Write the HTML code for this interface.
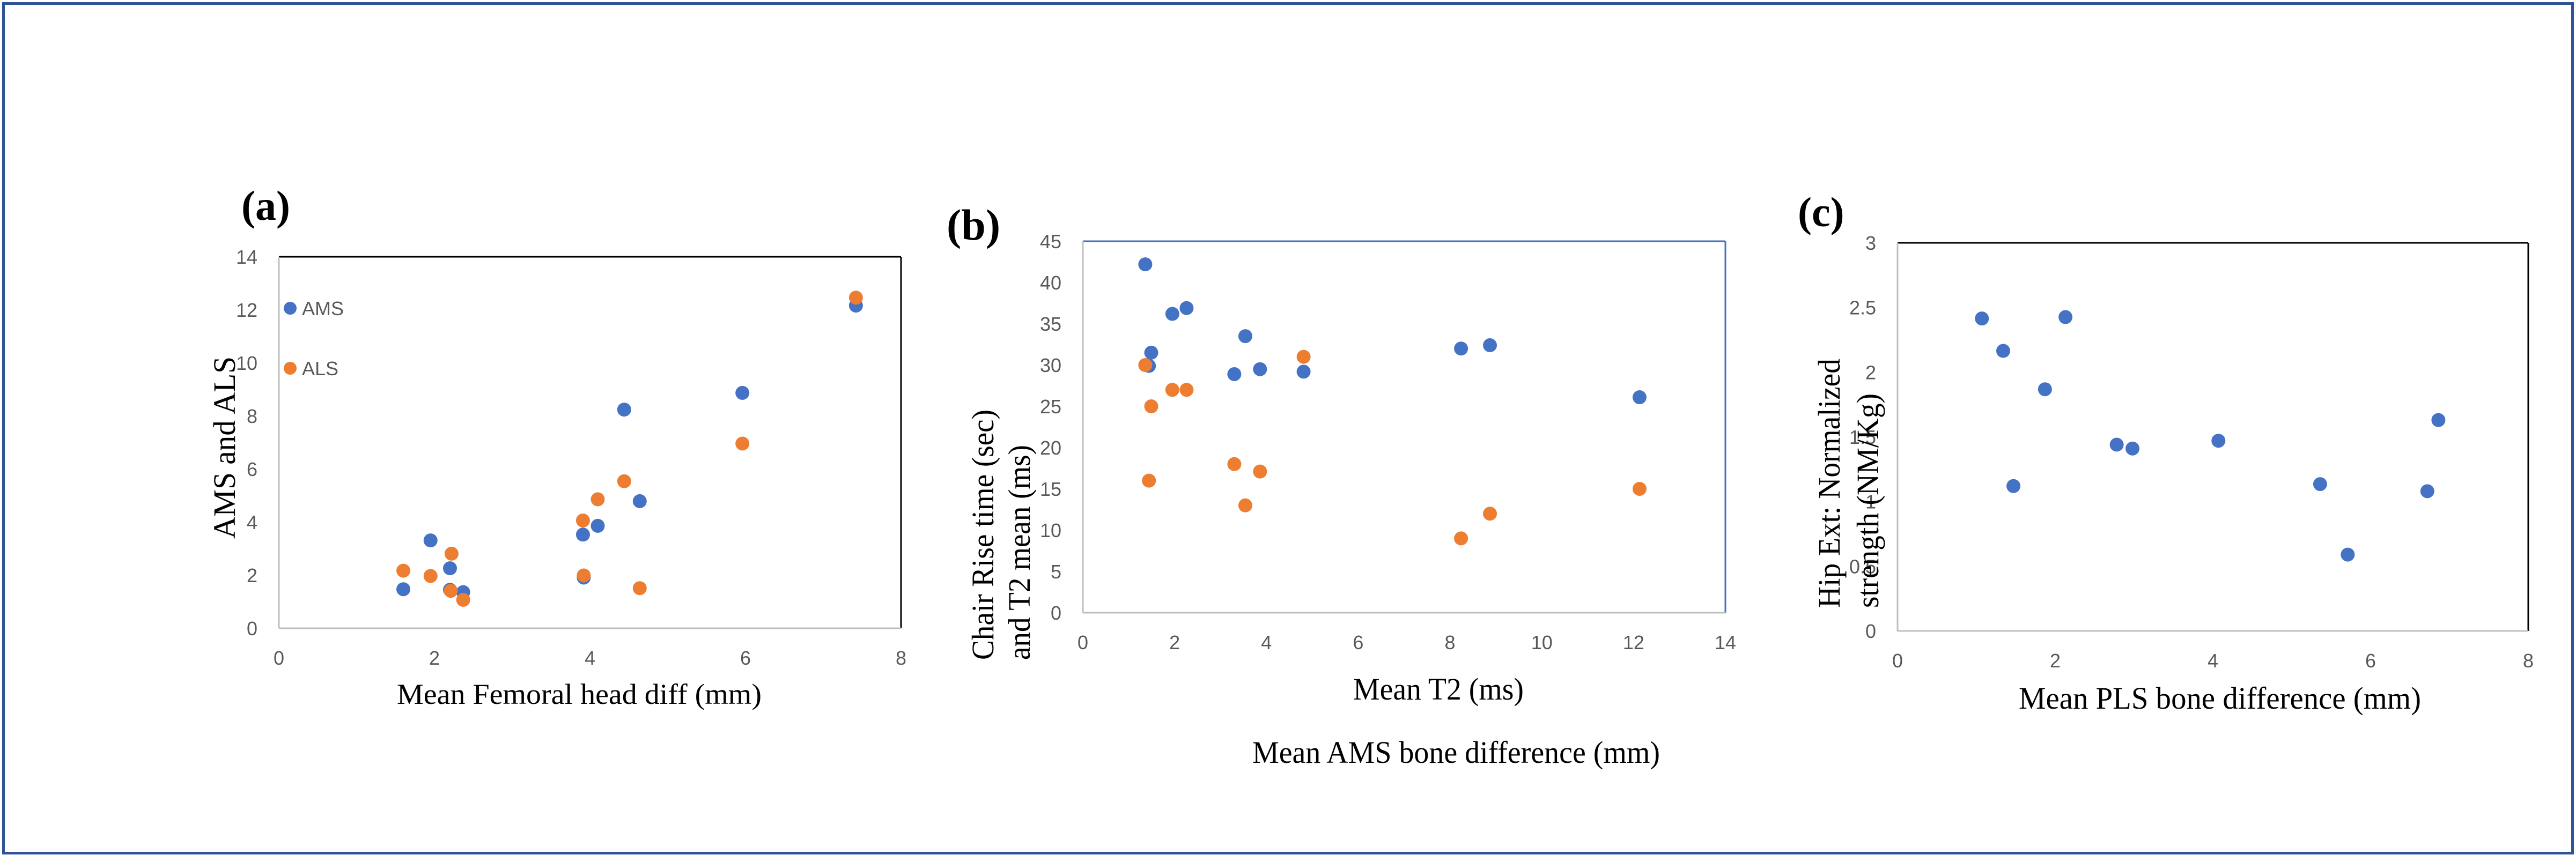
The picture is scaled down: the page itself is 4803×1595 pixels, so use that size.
<!DOCTYPE html>
<html><head><meta charset="utf-8"><style>
html,body{margin:0;padding:0;background:#fff;}
svg{display:block;}
.tick{font-family:"Liberation Sans Narrow","Liberation Sans",sans-serif;font-size:36px;fill:#595959;}
.ttl{font-family:"Liberation Serif",serif;fill:#000;}
</style></head><body>
<svg id="root" width="4803" height="1595" viewBox="0 0 4803 1595" xmlns="http://www.w3.org/2000/svg">
<rect x="6.5" y="6.5" width="4790" height="1585" fill="none" stroke="#2f5496" stroke-width="5"/>
<g id="ga"></g>
<g id="gb"></g>
<g id="gc"></g>
</svg>
<script>
// Panel (a) data
const aXTicks = [0,2,4,6,8];
const aYTicks = [0,2,4,6,8,10,12,14];
const aAmsX = [1.60,1.95,2.20,2.20,2.37,3.92,3.91,4.10,4.44,4.64,5.96,7.42];
const aAmsY = [1.47,3.31,2.26,1.45,1.36,1.91,3.53,3.86,8.24,4.79,8.87,12.16];
const aAlsX = [1.60,1.95,2.22,2.21,2.37,3.91,3.92,4.10,4.44,4.64,5.96,7.42];
const aAlsY = [2.17,1.97,2.81,1.41,1.07,4.06,1.99,4.86,5.54,1.51,6.96,12.46];
// Panel (b) data
const bXTicks = [0,2,4,6,8,10,12,14];
const bYTicks = [0,5,10,15,20,25,30,35,40,45];
const bBlueX = [1.36,1.95,2.26,1.49,1.44,3.30,3.54,3.86,4.81,8.24,8.87,12.13];
const bBlueY = [42.2,36.2,36.9,31.5,29.9,28.9,33.5,29.5,29.2,32.0,32.4,26.1];
const bOrangeX = [1.36,1.49,1.95,2.26,1.44,3.30,3.86,3.54,4.81,8.24,8.87,12.13];
const bOrangeY = [30.0,25.0,27.0,27.0,16.0,18.0,17.1,13.0,31.0,9.0,12.0,15.0];
// Panel (c) data
const cXTicks = [0,2,4,6,8];
const cYTicks = [0,0.5,1,1.5,2,2.5,3];
const cYTickLabels = ["0","0.5","1","1.5","2","2.5","3"];
const cX = [1.07,1.34,2.13,1.87,1.47,2.78,2.98,4.07,5.36,5.71,6.72,6.86];
const cY = [2.415,2.165,2.426,1.868,1.12,1.44,1.41,1.47,1.135,0.59,1.08,1.63];

const NS="http://www.w3.org/2000/svg";
function mk(parent,tag,attrs,text){
  const e=document.createElementNS(NS,tag);
  for(const k in attrs) e.setAttribute(k,attrs[k]);
  if(text!==undefined) e.textContent=text;
  parent.appendChild(e); return e;
}
function panel(g,cfg){
  const sx=v=>cfg.L+(v-cfg.xmin)/(cfg.xmax-cfg.xmin)*(cfg.R-cfg.L);
  const sy=v=>cfg.B-(v-cfg.ymin)/(cfg.ymax-cfg.ymin)*(cfg.B-cfg.T);
  let e;
  e=mk(g,'line',{x1:cfg.L,y1:cfg.T,x2:cfg.R,y2:cfg.T,stroke:cfg.frame,'stroke-width':3});
  
  
  e=mk(g,'line',{x1:cfg.R,y1:cfg.T,x2:cfg.R,y2:cfg.B,stroke:cfg.frame,'stroke-width':3});
  
  
  e=mk(g,'line',{x1:cfg.L,y1:cfg.T,x2:cfg.L,y2:cfg.B,stroke:'#bfbfbf','stroke-width':3});
  
  
  e=mk(g,'line',{x1:cfg.L,y1:cfg.B,x2:cfg.R,y2:cfg.B,stroke:'#bfbfbf','stroke-width':3});
  
  
  cfg.xt.forEach(v=>{
    const t=mk(g,'text',{x:sx(v),y:cfg.B+68,'text-anchor':'middle',class:'tick'},String(v));
    
    
  });
  cfg.yt.forEach((v,i)=>{
    const t=mk(g,'text',{x:cfg.L-40,y:sy(v)+13,'text-anchor':'end',class:'tick'},cfg.ytl?cfg.ytl[i]:String(v));
    
    
  });
  cfg.series.forEach(s=>{
    s.x.forEach((xv,i)=>{
      const c=mk(g,'circle',{cx:sx(xv),cy:sy(s.y[i]),r:13,fill:s.color});
      
      
    });
  });
}
const ga=document.getElementById('ga'),gb=document.getElementById('gb'),gc=document.getElementById('gc');
panel(ga,{L:520,R:1680,T:479,B:1172,xmin:0,xmax:8,ymin:0,ymax:14,frame:'#000',xt:aXTicks,yt:aYTicks,
  series:[{x:aAmsX,y:aAmsY,color:'#4472c4',name:'ams'},{x:aAlsX,y:aAlsY,color:'#ed7d31',name:'als'}]});
panel(gb,{L:2019,R:3217,T:450,B:1143,xmin:0,xmax:14,ymin:0,ymax:45,frame:'#4472c4',xt:bXTicks,yt:bYTicks,
  series:[{x:bBlueX,y:bBlueY,color:'#4472c4',name:'chair-rise'},{x:bOrangeX,y:bOrangeY,color:'#ed7d31',name:'t2-mean'}]});
panel(gc,{L:3538,R:4714,T:453,B:1177,xmin:0,xmax:8,ymin:0,ymax:3,frame:'#000',xt:cXTicks,yt:cYTicks,ytl:cYTickLabels,
  series:[{x:cX,y:cY,color:'#4472c4',name:'hip-ext'}]});
</script>
<svg width="0" height="0" style="position:absolute"></svg>
<script>
(function(){
const root=document.getElementById('root');
function txt(attrs,text,name){
  const e=document.createElementNS("http://www.w3.org/2000/svg",'text');
  for(const k in attrs) e.setAttribute(k,attrs[k]);
  e.textContent=text;
  
  
  root.appendChild(e);
}
const ga=document.getElementById('ga');
let c=document.createElementNS("http://www.w3.org/2000/svg",'circle');
c.setAttribute('cx',541);c.setAttribute('cy',575);c.setAttribute('r',12);c.setAttribute('fill','#4472c4');


ga.appendChild(c);
c=document.createElementNS("http://www.w3.org/2000/svg",'circle');
c.setAttribute('cx',541);c.setAttribute('cy',687);c.setAttribute('r',12);c.setAttribute('fill','#ed7d31');


ga.appendChild(c);
txt({x:563,y:588,class:'tick'},'AMS','legend-ams-label');
txt({x:563,y:700,class:'tick'},'ALS','legend-als-label');
// panel labels
txt({x:450,y:410,class:'ttl','font-size':78,'font-weight':'bold'},'(a)','panel-a-label');
txt({x:1765,y:447,class:'ttl','font-size':82,'font-weight':'bold'},'(b)','panel-b-label');
txt({x:3352,y:422,class:'ttl','font-size':78,'font-weight':'bold'},'(c)','panel-c-label');
// axis titles
txt({x:1080,y:1313,class:'ttl','font-size':54,'text-anchor':'middle',textLength:680,lengthAdjust:'spacingAndGlyphs'},'Mean Femoral head diff (mm)','x-axis-title-a');
txt({x:0,y:0,class:'ttl','font-size':58,'text-anchor':'middle',transform:'translate(438,835) rotate(-90)',textLength:340,lengthAdjust:'spacingAndGlyphs'},'AMS and  ALS','y-axis-title-a');
txt({x:2682,y:1305,class:'ttl','font-size':58,'text-anchor':'middle',textLength:318,lengthAdjust:'spacingAndGlyphs'},'Mean T2 (ms)','x-axis-title-b');
txt({x:2715,y:1423,class:'ttl','font-size':58,'text-anchor':'middle',textLength:760,lengthAdjust:'spacingAndGlyphs'},'Mean AMS bone difference (mm)','x-axis-title-b2');
txt({x:0,y:0,class:'ttl','font-size':58,transform:'translate(1852,1231) rotate(-90)',textLength:467,lengthAdjust:'spacingAndGlyphs'},'Chair Rise time (sec)','y-axis-title-b-line1');
txt({x:0,y:0,class:'ttl','font-size':58,transform:'translate(1920,1231) rotate(-90)',textLength:401,lengthAdjust:'spacingAndGlyphs'},'and T2 mean (ms)','y-axis-title-b-line2');
txt({x:4139,y:1322,class:'ttl','font-size':58,'text-anchor':'middle',textLength:750,lengthAdjust:'spacingAndGlyphs'},'Mean PLS bone difference  (mm)','x-axis-title-c');
txt({x:0,y:0,class:'ttl','font-size':58,transform:'translate(3430,1134) rotate(-90)',textLength:465,lengthAdjust:'spacingAndGlyphs'},'Hip Ext: Normalized','y-axis-title-c-line1');
txt({x:0,y:0,class:'ttl','font-size':58,transform:'translate(3502,1134) rotate(-90)',textLength:400,lengthAdjust:'spacingAndGlyphs'},'strength (NM/Kg)','y-axis-title-c-line2');
})();
</script>
</body></html>
